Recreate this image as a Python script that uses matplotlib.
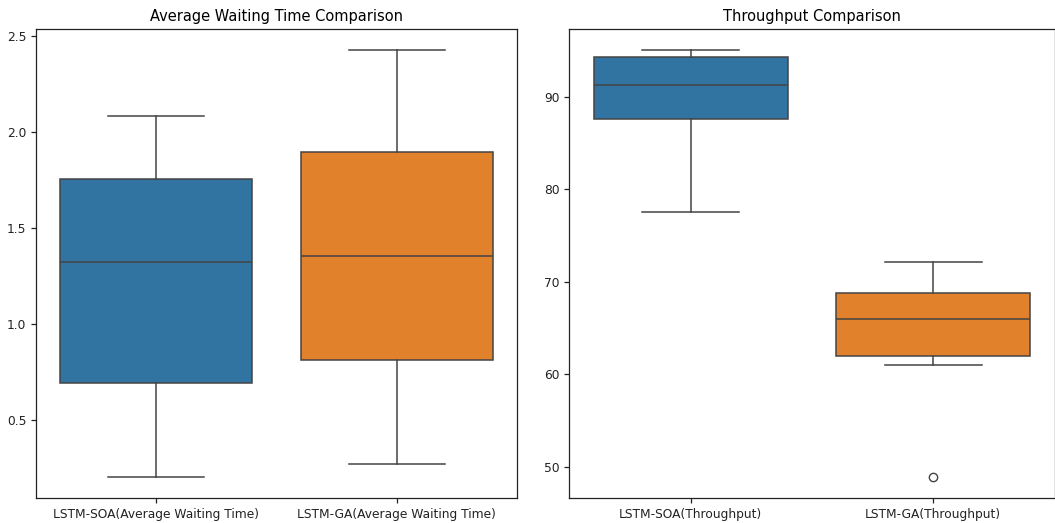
import matplotlib
matplotlib.use("Agg")
import matplotlib.pyplot as plt

# Data (box statistics)
wait_labels = ["LSTM-SOA(Average Waiting Time)", "LSTM-GA(Average Waiting Time)"]
wait_whislo = [0.205, 0.271]
wait_q1 = [0.691, 0.812]
wait_med = [1.322, 1.356]
wait_q3 = [1.758, 1.896]
wait_whishi = [2.087, 2.428]
wait_fliers = [[], []]

thr_labels = ["LSTM-SOA(Throughput)", "LSTM-GA(Throughput)"]
thr_whislo = [77.5, 61.0]
thr_q1 = [87.6, 61.9]
thr_med = [91.3, 65.9]
thr_q3 = [94.3, 68.8]
thr_whishi = [95.0, 72.1]
thr_fliers = [[], [48.9]]

colors = ["#3274a1", "#e1812c"]
line_color = "#444444"

fig = plt.figure(figsize=(10.55, 5.23), dpi=100)
ax1 = fig.add_axes([36.1 / 1055, 1 - 498 / 523, (516.9 - 36.1) / 1055, (498 - 29) / 523])
ax2 = fig.add_axes([569.4 / 1055, 1 - 498 / 523, (1054.6 - 569.4) / 1055, (498 - 29) / 523])


def draw(ax, labels, lo, q1, med, q3, hi, fl, title):
    stats = []
    for i in range(len(labels)):
        stats.append(dict(label=labels[i], whislo=lo[i], q1=q1[i], med=med[i],
                          q3=q3[i], whishi=hi[i], fliers=fl[i]))
    lw = 1.1
    bp = ax.bxp(stats, positions=list(range(len(labels))), widths=0.8,
                patch_artist=True, showfliers=True, capwidths=0.4,
                boxprops=dict(edgecolor=line_color, linewidth=lw),
                medianprops=dict(color=line_color, linewidth=lw),
                whiskerprops=dict(color=line_color, linewidth=lw),
                capprops=dict(color=line_color, linewidth=lw),
                flierprops=dict(marker="o", markerfacecolor="none",
                                markeredgecolor=line_color, markersize=6,
                                markeredgewidth=1.0))
    for patch, c in zip(bp["boxes"], colors):
        patch.set_facecolor(c)
    ax.set_xlim(-0.5, len(labels) - 0.5)
    ax.set_xticks(range(len(labels)))
    ax.set_xticklabels(labels)
    ax.set_title(title, fontsize=10.5, pad=6)
    ax.tick_params(labelsize=8.8, colors="#222222", width=0.9)
    for s in ax.spines.values():
        s.set_color("#222222")
        s.set_linewidth(0.9)


draw(ax1, wait_labels, wait_whislo, wait_q1, wait_med, wait_q3, wait_whishi,
     wait_fliers, "Average Waiting Time Comparison")
ax1.set_ylim(0.094, 2.539)
ax1.set_yticks([0.5, 1.0, 1.5, 2.0, 2.5])

draw(ax2, thr_labels, thr_whislo, thr_q1, thr_med, thr_q3, thr_whishi,
     thr_fliers, "Throughput Comparison")
ax2.set_ylim(46.6, 97.3)
ax2.set_yticks([50, 60, 70, 80, 90])

fig.savefig("out.png", dpi=100)
